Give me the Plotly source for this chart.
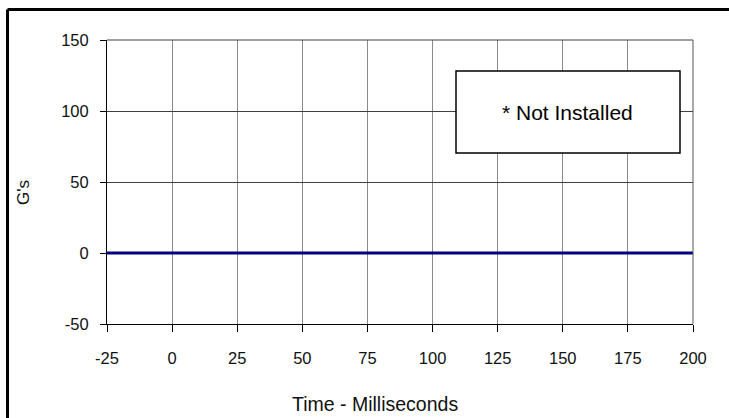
import plotly.graph_objects as go

# ---- data ----
time_ms = [-25, 200]
g_values = [0, 0]
x_ticks = [-25, 0, 25, 50, 75, 100, 125, 150, 175, 200]
y_ticks = [-50, 0, 50, 100, 150]
x_title = "Time - Milliseconds"
y_title = "G's"
note_text = "* Not Installed"

FONT = "Liberation Sans, Arial, sans-serif"

fig = go.Figure()
fig.add_trace(go.Scatter(
    x=time_ms, y=g_values, mode="lines",
    line=dict(color="#000080", width=3),
    showlegend=False, hoverinfo="skip",
))

fig.update_layout(
    width=729, height=418,
    margin=dict(l=107, r=36, t=40, b=94, pad=0),
    paper_bgcolor="white", plot_bgcolor="white",
    font=dict(family=FONT, size=16, color="#111111"),
    showlegend=False,
)

fig.update_xaxes(
    range=[x_ticks[0], x_ticks[-1]], tickvals=x_ticks,
    ticktext=[str(v) for v in x_ticks],
    showgrid=True, gridcolor="#8a8a8a", gridwidth=1,
    zeroline=False, showline=True, linecolor="black", linewidth=1,
    ticks="outside", ticklen=7, tickcolor="black", tickwidth=1,
    tickfont=dict(size=16.5), ticklabelstandoff=12,
)
fig.update_yaxes(
    range=[y_ticks[0], y_ticks[-1]], tickvals=y_ticks,
    ticktext=[str(v) for v in y_ticks],
    showgrid=True, gridcolor="#404040", gridwidth=1,
    zeroline=False, showline=True, linecolor="black", linewidth=1,
    ticks="outside", ticklen=6, tickcolor="black", tickwidth=1,
    tickfont=dict(size=16.5), ticklabelstandoff=8,
)

# plot area top/right edges
fig.add_shape(type="line", xref="paper", yref="paper", x0=0, x1=1, y0=1, y1=1,
              line=dict(color="#404040", width=1))
fig.add_shape(type="line", xref="paper", yref="paper", x0=1, x1=1, y0=0, y1=1,
              line=dict(color="#555555", width=1))

# outer frame (left and top edges visible)
fl = (7.5 - 107) / 586
ft = (324 - 9.5) / 284
fig.add_shape(type="line", xref="paper", yref="paper", x0=fl, x1=fl, y0=-0.5, y1=ft,
              line=dict(color="black", width=3))
fig.add_shape(type="line", xref="paper", yref="paper", x0=fl, x1=1.2, y0=ft, y1=ft,
              line=dict(color="black", width=3))

# note box
bx0 = (456 - 107) / 586
bx1 = (680 - 107) / 586
by1 = (324 - 71) / 284
by0 = (324 - 153) / 284
fig.add_shape(type="rect", xref="paper", yref="paper", x0=bx0, x1=bx1, y0=by0, y1=by1,
              fillcolor="white", line=dict(color="black", width=1.5), layer="above")
fig.add_annotation(xref="paper", yref="paper", x=(567.5 - 107) / 586, y=(324 - 112) / 284,
                   text=note_text, showarrow=False, xanchor="center", yanchor="middle",
                   font=dict(size=21, color="black", family=FONT))

# axis titles
fig.add_annotation(xref="paper", yref="paper", x=(374.5 - 107) / 586, y=(324 - 404) / 284,
                   text=x_title, showarrow=False, xanchor="center", yanchor="middle",
                   font=dict(size=19.5, color="#111111", family=FONT))
fig.add_annotation(xref="paper", yref="paper", x=(23 - 107) / 586, y=(324 - 193) / 284,
                   text=y_title, showarrow=False, xanchor="center", yanchor="middle",
                   textangle=-90, font=dict(size=17, color="#111111", family=FONT))

fig.write_html(
    "out.html",
    config={"displayModeBar": False},
    post_script="document.body.style.margin='0';document.body.style.overflow='hidden';",
)
